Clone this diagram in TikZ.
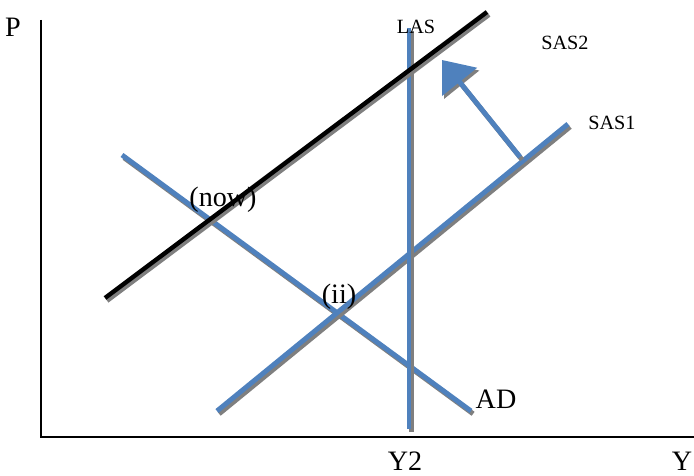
\documentclass[tikz,border=0pt]{standalone}
\usepackage{fontspec}
\setmainfont{Liberation Serif}
\usetikzlibrary{arrows.meta,positioning}
\definecolor{curveblue}{HTML}{4F81BD}
\definecolor{shadowgray}{HTML}{7F7F7F}
\tikzset{
  shadowed/.style={preaction={draw=shadowgray,line width=#1,transform canvas={shift={(1.2pt,-1.6pt)}}}},
  curve/.style={draw=curveblue,line width=2.8pt,shadowed=2.8pt},
  oldcurve/.style={draw=black,line width=2.5pt,shadowed=2.5pt},
  axis/.style={draw=black,line width=0.8pt},
  biglabel/.style={inner sep=0pt,font=\fontsize{16}{19}\selectfont},
  smalllabel/.style={inner sep=0pt,font=\fontsize{11.5}{14}\selectfont}
}

\begin{document}
\begin{tikzpicture}[x=0.2mm,y=0.2mm]
\useasboundingbox (0,0) rectangle (694,476);

% axes
\coordinate (top) at (41,456);
\coordinate (O) at (41,39);
\coordinate (right) at (694,39);
\draw[axis] (top) -- (O) -- (right);
\node[biglabel] (P) at (13,449) {P};
\node[biglabel] (Y2) at (405,15) {Y2};
\node[biglabel] (Y) at (682,15) {Y};

% curves
\coordinate (ad1) at (122,321);
\coordinate (ad2) at (471,65);
\coordinate (sas1a) at (217,65);
\coordinate (sas1b) at (568,352);
\coordinate (las1) at (409,47);
\coordinate (las2) at (409,448);
\coordinate (sas2a) at (105,178);
\coordinate (sas2b) at (487,464);
\draw[curve] (ad1) -- (ad2);
\draw[curve] (sas1a) -- (sas1b);
\draw[curve] (las1) -- (las2);
\draw[oldcurve] (sas2a) -- (sas2b);

% shift of the short run curve
\coordinate (shiftbase) at (520,319);
\coordinate (shifttip) at (442,416);
\draw[curve,-{Triangle[width=25pt,length=16pt]}] (shiftbase) -- (shifttip);

% labels
\node[smalllabel] (LAS) at (416,449) {LAS};
\node[smalllabel] (SAS2) at (565,433) {SAS2};
\node[smalllabel] (SAS1) at (612,353) {SAS1};
\node[biglabel] (AD) at (496,77) {AD};
\node[biglabel] (now) at (223,276) {(now)};
\node[biglabel] (ii) at (339,179) {(ii)};
\end{tikzpicture}
\end{document}
